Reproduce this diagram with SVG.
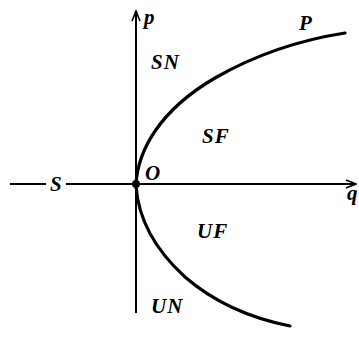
<svg xmlns="http://www.w3.org/2000/svg" width="359" height="337" viewBox="0 0 359 337">
<style>
.ax{stroke:#000;stroke-width:2;fill:none}
.cv{stroke:#000;stroke-width:3.2;fill:none;stroke-linecap:round}
.lb{font-family:"Liberation Serif",serif;font-style:italic;font-weight:bold;font-size:21px;letter-spacing:1px;fill:#000}
</style>
<defs>
<marker id="ah" markerWidth="12" markerHeight="10" refX="11" refY="5" orient="auto" markerUnits="userSpaceOnUse">
<path d="M1,1 L11,5 L1,9" fill="none" stroke="#000" stroke-width="1.6"/>
</marker>
</defs>
<rect width="359" height="337" fill="#fff"/>
<g id="axes">
<line class="ax" x1="136" y1="313" x2="136" y2="11" marker-end="url(#ah)"/>
<line class="ax" x1="10" y1="184" x2="46" y2="184"/>
<line class="ax" x1="66" y1="184" x2="356" y2="184" marker-end="url(#ah)"/>
</g>
<g id="curves">
<path class="cv" d="M136,184 C138,150 160,110 215,78 C255,55 300,40 345,33"/>
<path class="cv" d="M136,186 C138,215 150,245 185,277 C215,303 250,318 290,326"/>
</g>
<circle id="O-point" cx="136" cy="184" r="4" fill="#000"/>
<g id="labels">
<text class="lb" x="144" y="24">p</text>
<text class="lb" x="299" y="30">P</text>
<text class="lb" x="151" y="69">SN</text>
<text class="lb" x="202" y="143">SF</text>
<text class="lb" x="145" y="180">O</text>
<text class="lb" x="50" y="191">S</text>
<text class="lb" x="347" y="200">q</text>
<text class="lb" x="197" y="238">UF</text>
<text class="lb" x="151" y="313">UN</text>
</g>
</svg>
